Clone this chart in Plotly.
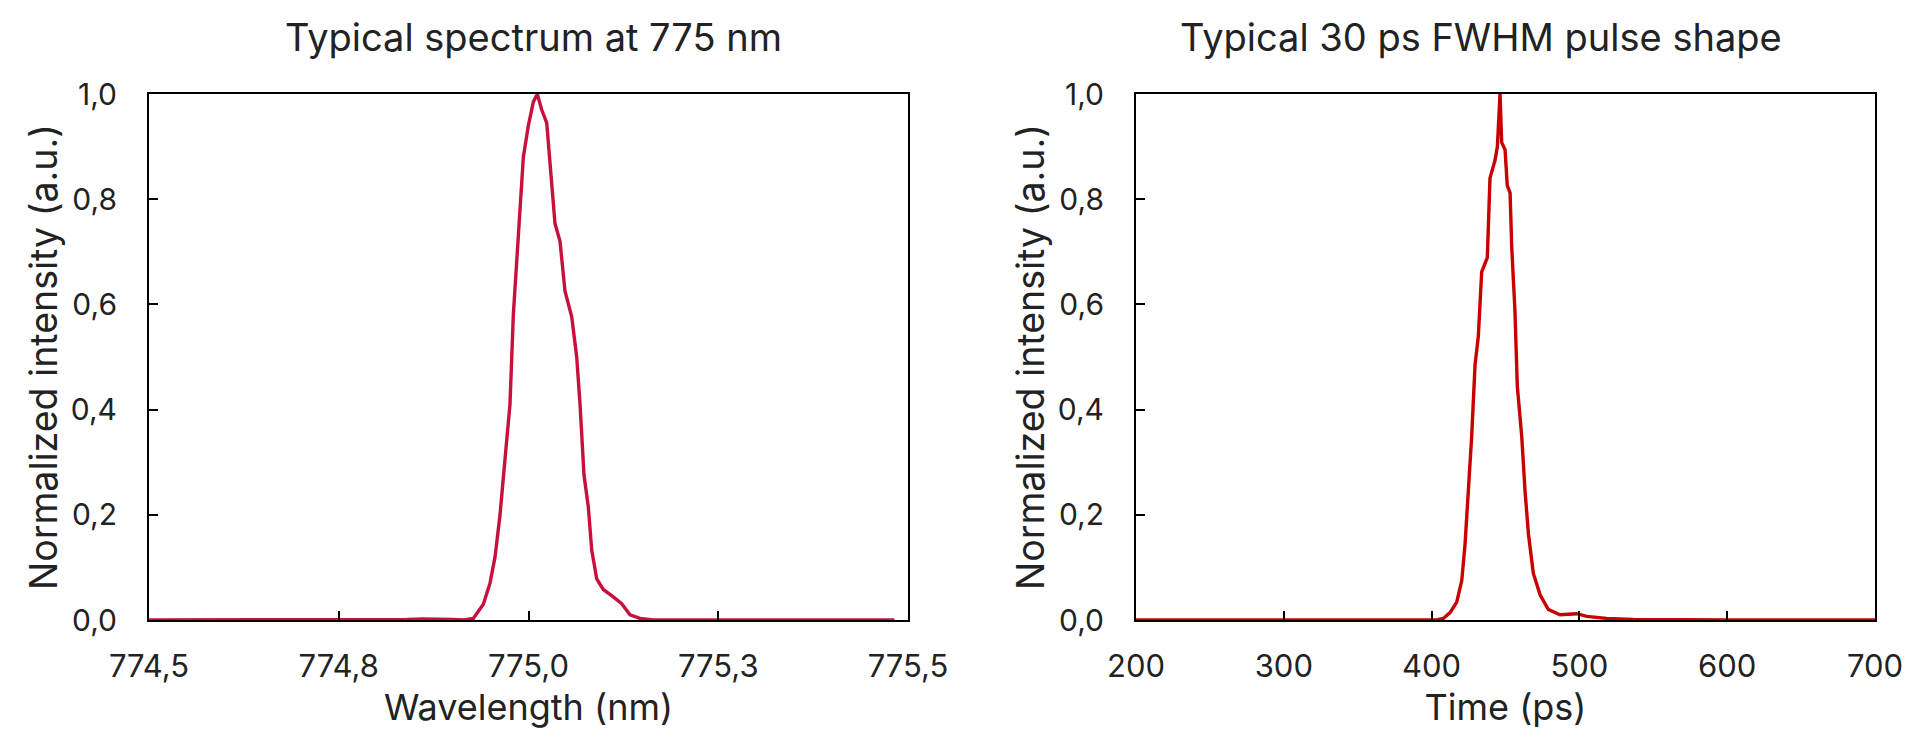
import plotly.graph_objects as go

# ---- Data: left panel, typical spectrum at 775 nm ----
wavelength_nm = [774.50, 774.60, 774.70, 774.80, 774.84, 774.86, 774.88, 774.90, 774.915,
                 774.9273, 774.9405, 774.9493, 774.9559, 774.9625, 774.9668, 774.9713,
                 774.9756, 774.9800, 774.9866, 774.9932, 774.9998, 775.0064, 775.0116,
                 775.0174, 775.0240, 775.0283, 775.0349, 775.0415, 775.0481, 775.0569,
                 775.0635, 775.0679, 775.0731, 775.0788, 775.0833, 775.0899, 775.0985,
                 775.1117, 775.1228, 775.1337, 775.1469, 775.1645, 775.20, 775.30,
                 775.40, 775.482]
spectrum_intensity = [0.0, 0.0, 0.0, 0.0, 0.001, 0.002, 0.002, 0.001, 0.0,
                      0.003, 0.03, 0.07, 0.12, 0.20, 0.27, 0.34,
                      0.41, 0.58, 0.74, 0.88, 0.94, 0.985, 1.0,
                      0.97, 0.945, 0.87, 0.754, 0.72, 0.625, 0.577,
                      0.50, 0.41, 0.276, 0.215, 0.133, 0.078, 0.058,
                      0.044, 0.031, 0.010, 0.003, 0.0, 0.0, 0.0,
                      0.0, 0.0]

# ---- Data: right panel, typical 30 ps FWHM pulse shape ----
time_ps = [200, 300, 400, 403.4, 407.9, 412.5, 417.0, 420.4, 422.6, 424.9, 427.1, 429.4,
           431.6, 433.9, 437.7, 439.5, 442.9, 444.5, 446.3, 447.4, 449.7, 451.2, 453.1,
           454.2, 456.4, 458.0, 461.0, 463.2, 465.5, 468.8, 473.4, 479.0, 486.9, 498.2,
           504.9, 518.5, 536.5, 600, 700]
pulse_intensity = [0.0, 0.0, 0.0, 0.0, 0.003, 0.014, 0.034, 0.075, 0.143, 0.246, 0.348, 0.485,
                   0.539, 0.662, 0.689, 0.84, 0.874, 0.90, 1.0, 0.908, 0.894, 0.826, 0.812,
                   0.71, 0.587, 0.444, 0.348, 0.246, 0.164, 0.089, 0.048, 0.020, 0.010, 0.012,
                   0.007, 0.003, 0.001, 0.0, 0.0]

# ---- Tick labels ----
left_tickvals = [774.5, 774.75, 775.0, 775.25, 775.5]
left_ticktext = ["774,5", "774,8", "775,0", "775,3", "775,5"]
right_tickvals = [200, 300, 400, 500, 600, 700]
right_ticktext = ["200", "300", "400", "500", "600", "700"]
y_tickvals = [0.0, 0.2, 0.4, 0.6, 0.8, 1.0]
y_ticktext = ["0,0", "0,2", "0,4", "0,6", "0,8", "1,0"]

titles = ["Typical spectrum at 775 nm", "Typical 30 ps FWHM pulse shape"]
x_titles = ["Wavelength (nm)", "Time (ps)"]
y_title = "Normalized intensity (a.u.)"

FONT = "Inter"
TXT = "#222222"
W, H = 1920, 735
OFF = 8  # page body margin

fig = go.Figure()
fig.add_trace(go.Scatter(x=wavelength_nm, y=spectrum_intensity, mode="lines",
                         line=dict(color="#C8103C", width=3.4),
                         xaxis="x", yaxis="y", showlegend=False))
fig.add_trace(go.Scatter(x=time_ps, y=pulse_intensity, mode="lines",
                         line=dict(color="#C80000", width=3.4),
                         xaxis="x2", yaxis="y2", showlegend=False))

ydom = [1 - (620 - OFF) / H, 1 - (94 - OFF) / H]
common_axis = dict(showline=True, linecolor="black", linewidth=2, mirror=True,
                   ticks="inside", ticklen=9, tickwidth=2, tickcolor="black",
                   showgrid=False, zeroline=False, automargin=False)
xfont = dict(family=FONT, size=31, color=TXT)
yfont = dict(family=FONT, size=30, color=TXT)
tfont = dict(family=FONT, size=36, color=TXT)
ytfont = dict(family=FONT, size=37.5, color=TXT)

fig.update_layout(
    width=W, height=H,
    margin=dict(l=0, r=0, t=0, b=0, autoexpand=False),
    paper_bgcolor="white", plot_bgcolor="white",
    xaxis=dict(domain=[(149 - OFF) / W, (908 - OFF) / W], range=[774.5, 775.5],
               tickvals=left_tickvals, ticktext=left_ticktext, tickfont=xfont,
               ticklabelstandoff=18,
               title=dict(text=x_titles[0], font=tfont, standoff=12),
               anchor="y", **common_axis),
    yaxis=dict(domain=ydom, range=[0, 1.0],
               tickvals=y_tickvals, ticktext=y_ticktext, tickfont=yfont,
               ticklabelstandoff=24,
               title=dict(text=y_title, font=ytfont, standoff=2),
               anchor="x", **common_axis),
    xaxis2=dict(domain=[(1136 - OFF) / W, (1875 - OFF) / W], range=[200, 700],
                tickvals=right_tickvals, ticktext=right_ticktext, tickfont=xfont,
                ticklabelstandoff=18,
                title=dict(text=x_titles[1], font=tfont, standoff=12),
                anchor="y2", **common_axis),
    yaxis2=dict(domain=ydom, range=[0, 1.0],
                tickvals=y_tickvals, ticktext=y_ticktext, tickfont=yfont,
                ticklabelstandoff=24,
                title=dict(text=y_title, font=ytfont, standoff=2),
                anchor="x2", **common_axis),
    annotations=[
        dict(text=titles[0], x=(533 - OFF) / W, y=1 - 29 / H, xref="paper", yref="paper",
             xanchor="center", yanchor="middle", showarrow=False,
             font=dict(family=FONT, size=38, color=TXT)),
        dict(text=titles[1], x=(1481 - OFF) / W, y=1 - 29 / H, xref="paper", yref="paper",
             xanchor="center", yanchor="middle", showarrow=False,
             font=dict(family=FONT, size=38, color=TXT)),
    ],
)

fig.write_html("out.html")
